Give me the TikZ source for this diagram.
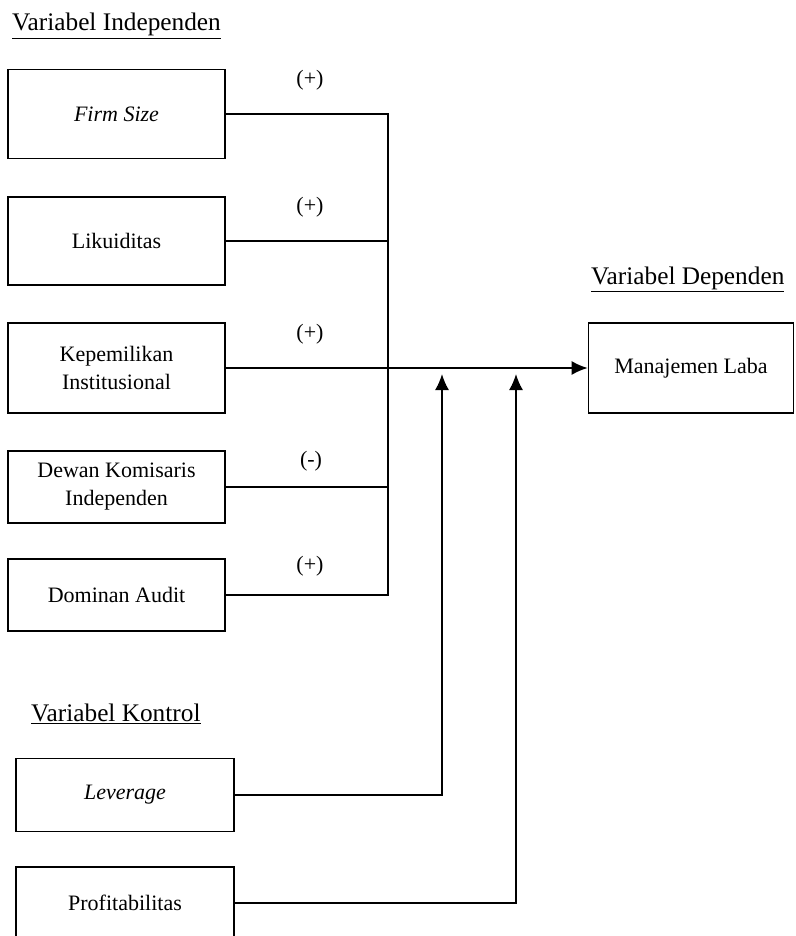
\documentclass[tikz,border=0pt]{standalone}
\usepackage{fontspec}
\setmainfont{Liberation Serif}
\usetikzlibrary{arrows.meta}
\begin{document}
\begin{tikzpicture}[x=1pt,y=-1pt,
  varbox/.style={draw,line width=1.7pt,align=center,font=\fontsize{22}{28}\selectfont,inner sep=0pt},
  conn/.style={line width=1.7pt},
  arr/.style={line width=1.7pt,-{Latex[length=16pt,width=14pt]}},
  sign/.style={font=\fontsize{22}{26}\selectfont},
  ttl/.style={font=\fontsize{25.3}{30}\selectfont,anchor=base west,inner sep=0pt}]
\useasboundingbox (0,0) rectangle (795,936);
% titles
\node[ttl] (tind) at (12,31) {\underline{Variabel Independen}};
\node[ttl] (tdep) at (591,284) {\underline{Variabel Dependen}};
\node[ttl] (tkon) at (31,721) {\underline{Variabel Kontrol}};
% independent boxes
\node[varbox,minimum width=217pt,minimum height=89pt] (fs) at (116.5,114) {\textit{Firm Size}};
\node[varbox,minimum width=217pt,minimum height=88pt] (lk) at (116.5,241) {Likuiditas};
\node[varbox,minimum width=217pt,minimum height=90pt] (ki) at (116.5,368) {Kepemilikan\\Institusional};
\node[varbox,minimum width=217pt,minimum height=72pt] (dk) at (116.5,487) {Dewan Komisaris\\Independen};
\node[varbox,minimum width=217pt,minimum height=72pt] (da) at (116.5,595) {Dominan Audit};
% control boxes
\node[varbox,minimum width=218pt,minimum height=73pt] (lev) at (125,795) {\textit{Leverage}};
\node[varbox,minimum width=218pt,minimum height=72pt] (prof) at (125,903) {Profitabilitas};
% dependent
\node[varbox,minimum width=205pt,minimum height=90pt] (ml) at (691,368) {Manajemen Laba};
% bus and arrow targets
\coordinate (bus) at (388,0);
\coordinate (up1) at (442,374);
\coordinate (up2) at (516,374);
% connectors
\draw[conn] (fs.east) -- (fs.east -| bus) -- (da.east -| bus) -- (da.east);
\draw[conn] (lk.east) -- (lk.east -| bus);
\draw[conn] (dk.east) -- (dk.east -| bus);
\draw[arr] (ki.east) -- (ml.west);
\draw[arr] (lev.east) -| (up1);
\draw[arr] (prof.east) -| (up2);
% signs
\node[sign] (s1) at (310,80) {(+)};
\node[sign] (s2) at (310,207) {(+)};
\node[sign] (s3) at (310,334) {(+)};
\node[sign] (s4) at (311,461) {(-)};
\node[sign] (s5) at (310,566) {(+)};
\end{tikzpicture}
\end{document}
